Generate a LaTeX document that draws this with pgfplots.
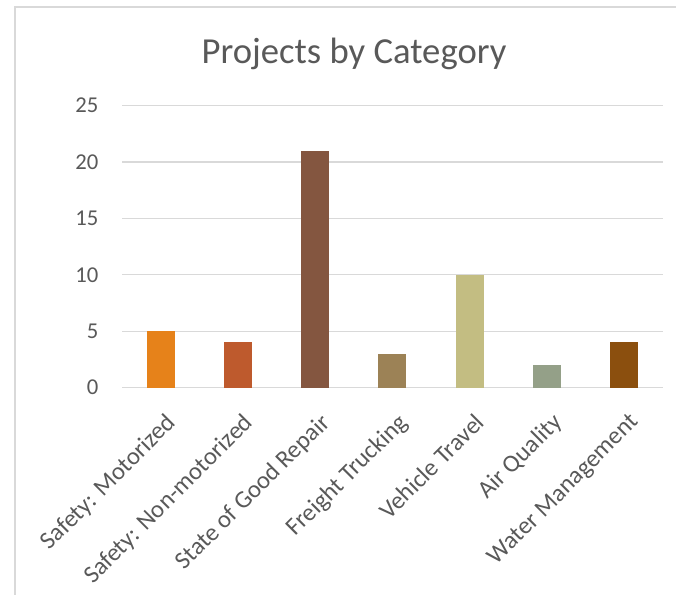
\documentclass[border=0pt]{standalone}
\usepackage{pgfplots}
\pgfplotsset{compat=1.18}
\usepackage{fontspec}
\setmainfont{Carlito}

\definecolor{txt}{HTML}{595959}
\definecolor{grd}{HTML}{D9D9D9}
\definecolor{c1}{HTML}{E6821A}
\definecolor{c2}{HTML}{BE5A2D}
\definecolor{c3}{HTML}{845640}
\definecolor{c4}{HTML}{9C8256}
\definecolor{c5}{HTML}{C3BD82}
\definecolor{c6}{HTML}{94A088}
\definecolor{c7}{HTML}{8B4F0E}

\begin{document}
\begin{tikzpicture}[x=1pt,y=1pt]
  \path[use as bounding box] (0,0) rectangle (507,446.25);
  % chart frame (left and top edges only, as cropped)
  \draw[grd, line width=1.1pt] (11.25,0) -- (11.25,441) -- (507,441);

  \begin{axis}[
      at={(91.5pt,155.6pt)}, anchor=south west,
      scale only axis,
      width=405.5pt, height=211.4pt,
      ybar, bar width=21pt, bar shift=0pt,
      xmin=-0.5, xmax=6.5,
      ymin=0, ymax=25,
      xtick={0,...,6},
      xticklabels={Safety: Motorized, Safety: Non-motorized, State of Good Repair,
                   Freight Trucking, Vehicle Travel, Air Quality, Water Management},
      ytick={0,5,...,25},
      ymajorgrids,
      grid style={grd, line width=0.8pt},
      axis line style={draw=none},
      major tick length=0pt,
      /pgf/number format/assume math mode=true,
      ticklabel style={font=\fontsize{17}{20}\selectfont, text=txt},
      xticklabel style={font=\fontsize{18.5}{22}\selectfont,
                        xshift=3pt, yshift=-18pt, rotate=45,
                        anchor=north east, inner sep=0pt},
      yticklabel style={anchor=east, inner sep=0pt, xshift=-17.6pt},
    ]
    \addplot[fill=c1, draw=none] coordinates {(0,5)};
    \addplot[fill=c2, draw=none] coordinates {(1,4)};
    \addplot[fill=c3, draw=none] coordinates {(2,21)};
    \addplot[fill=c4, draw=none] coordinates {(3,3)};
    \addplot[fill=c5, draw=none] coordinates {(4,10)};
    \addplot[fill=c6, draw=none] coordinates {(5,2)};
    \addplot[fill=c7, draw=none] coordinates {(6,4)};
  \end{axis}

  \node[anchor=base, text=txt, font=\fontsize{27.5}{32}\selectfont]
    at (265.5,398.8) {Projects by Category};
\end{tikzpicture}
\end{document}
